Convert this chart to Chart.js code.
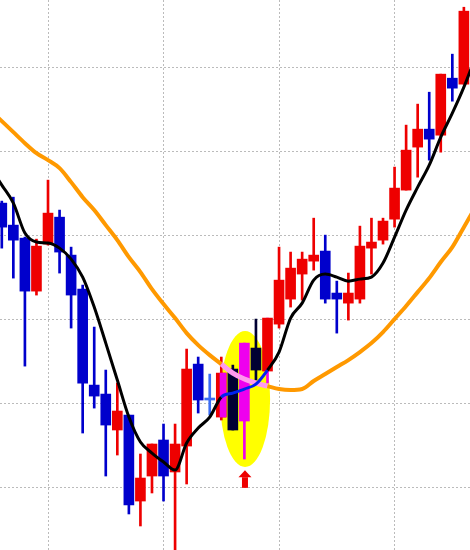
<!DOCTYPE html>
<html>
<head>
<meta charset="utf-8">
<script src="https://cdn.jsdelivr.net/npm/chart.js@4.4.0/dist/chart.umd.min.js"></script>
<style>
  html, body { margin: 0; padding: 0; background: #fff; }
  #wrap { width: 470px; height: 550px; }
</style>
</head>
<body>
<div id="wrap"><canvas id="chart"></canvas></div>
<script>
// OHLC, one entry per bar (bar index is the x value)
const opens  = [43.81, 41.19, 39.64, 33.33, 38.93, 42.14, 37.62, 33.57, 22.14, 21.07,
                16.79, 18.57, 8.33, 11.31, 15.60, 11.79, 14.88, 24.64, 20.36, 18.33,
                24.05, 17.86, 26.55, 23.81, 29.40, 32.38, 35.36, 36.90, 38.10, 33.10,
                31.90, 32.38, 38.45, 39.40, 41.90, 45.36, 50.48, 52.62, 51.90, 58.69, 57.98];
const highs  = [44.05, 44.52, 39.76, 39.52, 46.55, 42.98, 38.57, 34.05, 29.05, 23.93,
                22.38, 18.57, 13.93, 15.12, 17.50, 17.50, 26.43, 25.48, 23.45, 25.48,
                24.52, 27.14, 30.00, 30.12, 38.57, 37.98, 37.98, 42.02, 40.00, 34.52,
                35.48, 41.07, 42.02, 42.02, 48.10, 53.10, 55.60, 57.02, 59.17, 61.55, 67.14];
const lows   = [38.45, 34.88, 24.40, 32.86, 38.81, 35.48, 28.93, 16.43, 19.40, 11.31,
                13.81, 6.79, 5.36, 9.29, 8.33, 2.26, 10.36, 18.81, 18.57, 17.98,
                16.79, 13.33, 22.74, 22.38, 28.93, 31.43, 32.26, 35.83, 31.90, 28.33,
                29.88, 31.90, 35.36, 38.93, 40.95, 45.36, 46.90, 48.93, 49.88, 55.95, 57.98];
const closes = [40.95, 39.40, 33.33, 38.69, 42.62, 37.98, 32.86, 22.38, 20.83, 17.38,
                19.05, 7.86, 11.07, 15.12, 11.31, 15.12, 24.05, 20.36, 20.60, 23.57,
                16.79, 27.14, 23.93, 30.12, 34.64, 36.07, 37.14, 37.62, 32.38, 32.38,
                33.10, 38.69, 39.17, 41.67, 45.60, 50.12, 52.62, 51.43, 59.17, 57.50, 66.67];

// moving averages, from bar -1 (off the left edge) to bar 41 (off the right edge)
const maFast = [48.10,
                45.95, 43.81, 40.24, 39.17, 39.05, 38.45, 37.14, 35.00, 31.43, 27.14,
                22.74, 18.33, 15.36, 14.05, 12.98, 12.02, 15.24, 17.02, 18.33, 20.71,
                21.19, 21.67, 22.26, 23.93, 26.07, 30.12, 31.90, 34.64, 35.36, 35.00,
                34.52, 34.76, 35.00, 36.67, 39.76, 42.98, 45.71, 48.33, 51.67, 54.52,
                57.62, 61.19];
const maSlow = [54.88,
                53.57, 52.26, 50.95, 49.76, 48.93, 47.98, 46.31, 44.52, 42.98, 41.19,
                39.40, 37.38, 35.60, 33.57, 31.79, 30.12, 28.33, 26.90, 25.71, 24.64,
                23.57, 22.86, 22.38, 22.02, 21.67, 21.55, 21.67, 22.62, 23.45, 24.29,
                25.12, 26.07, 27.14, 28.45, 30.00, 31.55, 33.21, 34.88, 36.79, 38.57,
                40.95, 43.33];
const maStart = -1;

// grid positions
const gridX = [4, 14, 24, 34];
const gridY = [10, 20, 30, 40, 50, 60];

// the marked pattern
const zoneFrom = 19, zoneTo = 23;
const dojiBars = [18];
const darkBars = [20, 22];
const markBars = [21];
const markWickBars = [23];
const ghostX  = [19.15];
const ghostLo = [18.33];
const ghostHi = [23.57];

const UP = '#ee0000', DOWN = '#0000cc', DOJI = '#3a6cf4', DARK = '#000033', MARK = '#ee00ee';

function bodyColor(i) {
    if (dojiBars.includes(i)) return DOJI;
    if (darkBars.includes(i)) return DARK;
    if (markBars.includes(i)) return MARK;
    return closes[i] >= opens[i] ? UP : DOWN;
}
function wickColor(i) {
    return markWickBars.includes(i) ? MARK : bodyColor(i);
}
const inZone = c => c.p0.parsed.x >= zoneFrom && c.p0.parsed.x < zoneTo;

// yellow spot + arrow under the pattern
const zonePlugin = {
    id: 'zone',
    beforeDatasetsDraw(chart) {
        const {ctx, scales: {x, y}} = chart;
        const cx = x.getPixelForValue(21.06), cy = y.getPixelForValue(20.48);
        const rx = Math.abs(x.getPixelForValue(21.06 + 2.165) - cx);
        const ry = Math.abs(y.getPixelForValue(20.48 + 8.1) - cy);
        ctx.save();
        ctx.fillStyle = '#ffff00';
        ctx.beginPath();
        ctx.ellipse(cx, cy, rx, ry, 0, 0, Math.PI * 2);
        ctx.fill();
        ctx.restore();
    },
    afterDatasetsDraw(chart) {
        const {ctx, scales: {x, y}} = chart;
        const ax = x.getPixelForValue(21.05);
        const top = y.getPixelForValue(12.0), bottom = y.getPixelForValue(9.9);
        ctx.save();
        ctx.fillStyle = UP;
        ctx.beginPath();
        ctx.moveTo(ax, top);
        ctx.lineTo(ax + 6.5, top + 7);
        ctx.lineTo(ax - 6.5, top + 7);
        ctx.closePath();
        ctx.fill();
        ctx.fillRect(ax - 3, top + 7, 6, bottom - top - 7);
        ctx.restore();
    }
};

new Chart(document.getElementById('chart'), {
    type: 'bar',
    data: {
        datasets: [
            {
                label: 'wicks',
                data: lows.map((l, i) => ({x: i, y: [l, highs[i]]})),
                backgroundColor: lows.map((l, i) => wickColor(i)),
                barThickness: 2,
                grouped: false,
                borderWidth: 0,
                order: 5
            },
            {
                label: 'bodies',
                data: opens.map((o, i) => ({x: i, y: [o, closes[i]]})),
                backgroundColor: opens.map((o, i) => bodyColor(i)),
                barThickness: 10,
                grouped: false,
                borderWidth: 0,
                order: 4
            },
            {
                label: 'ghost',
                data: ghostX.map((gx, i) => ({x: gx, y: [ghostLo[i], ghostHi[i]]})),
                backgroundColor: MARK,
                barThickness: 6,
                grouped: false,
                borderWidth: 0,
                order: 3
            },
            {
                type: 'line',
                label: 'slow',
                data: maSlow.map((v, i) => ({x: i + maStart, y: v})),
                borderColor: '#ff9900',
                borderWidth: 4,
                pointRadius: 0,
                cubicInterpolationMode: 'monotone',
                segment: {
                    borderColor: c => inZone(c) ? '#ff99ee' : undefined,
                    borderWidth: c => inZone(c) ? 5 : undefined
                },
                order: 2
            },
            {
                type: 'line',
                label: 'fast',
                data: maFast.map((v, i) => ({x: i + maStart, y: v})),
                borderColor: '#000000',
                borderWidth: 3,
                pointRadius: 0,
                cubicInterpolationMode: 'monotone',
                segment: {
                    borderColor: c => inZone(c) ? '#0022ee' : undefined
                },
                order: 1
            }
        ]
    },
    options: {
        responsive: true,
        maintainAspectRatio: false,
        animation: false,
        layout: { padding: 0, autoPadding: false },
        plugins: { legend: { display: false }, tooltip: { enabled: false } },
        scales: {
            x: {
                type: 'linear',
                min: -0.156,
                max: 40.53,
                offset: false,
                grid: { color: '#bbbbbb', lineWidth: 1, drawTicks: false, offset: false },
                border: { display: false, dash: [2, 2] },
                ticks: { display: false },
                afterBuildTicks: s => { s.ticks = gridX.map(v => ({value: v})); }
            },
            y: {
                min: 2.5,
                max: 68,
                grid: { color: '#bbbbbb', lineWidth: 1, drawTicks: false },
                border: { display: false, dash: [2, 2] },
                ticks: { display: false },
                afterBuildTicks: s => { s.ticks = gridY.map(v => ({value: v})); }
            }
        }
    },
    plugins: [zonePlugin]
});
</script>
</body>
</html>
